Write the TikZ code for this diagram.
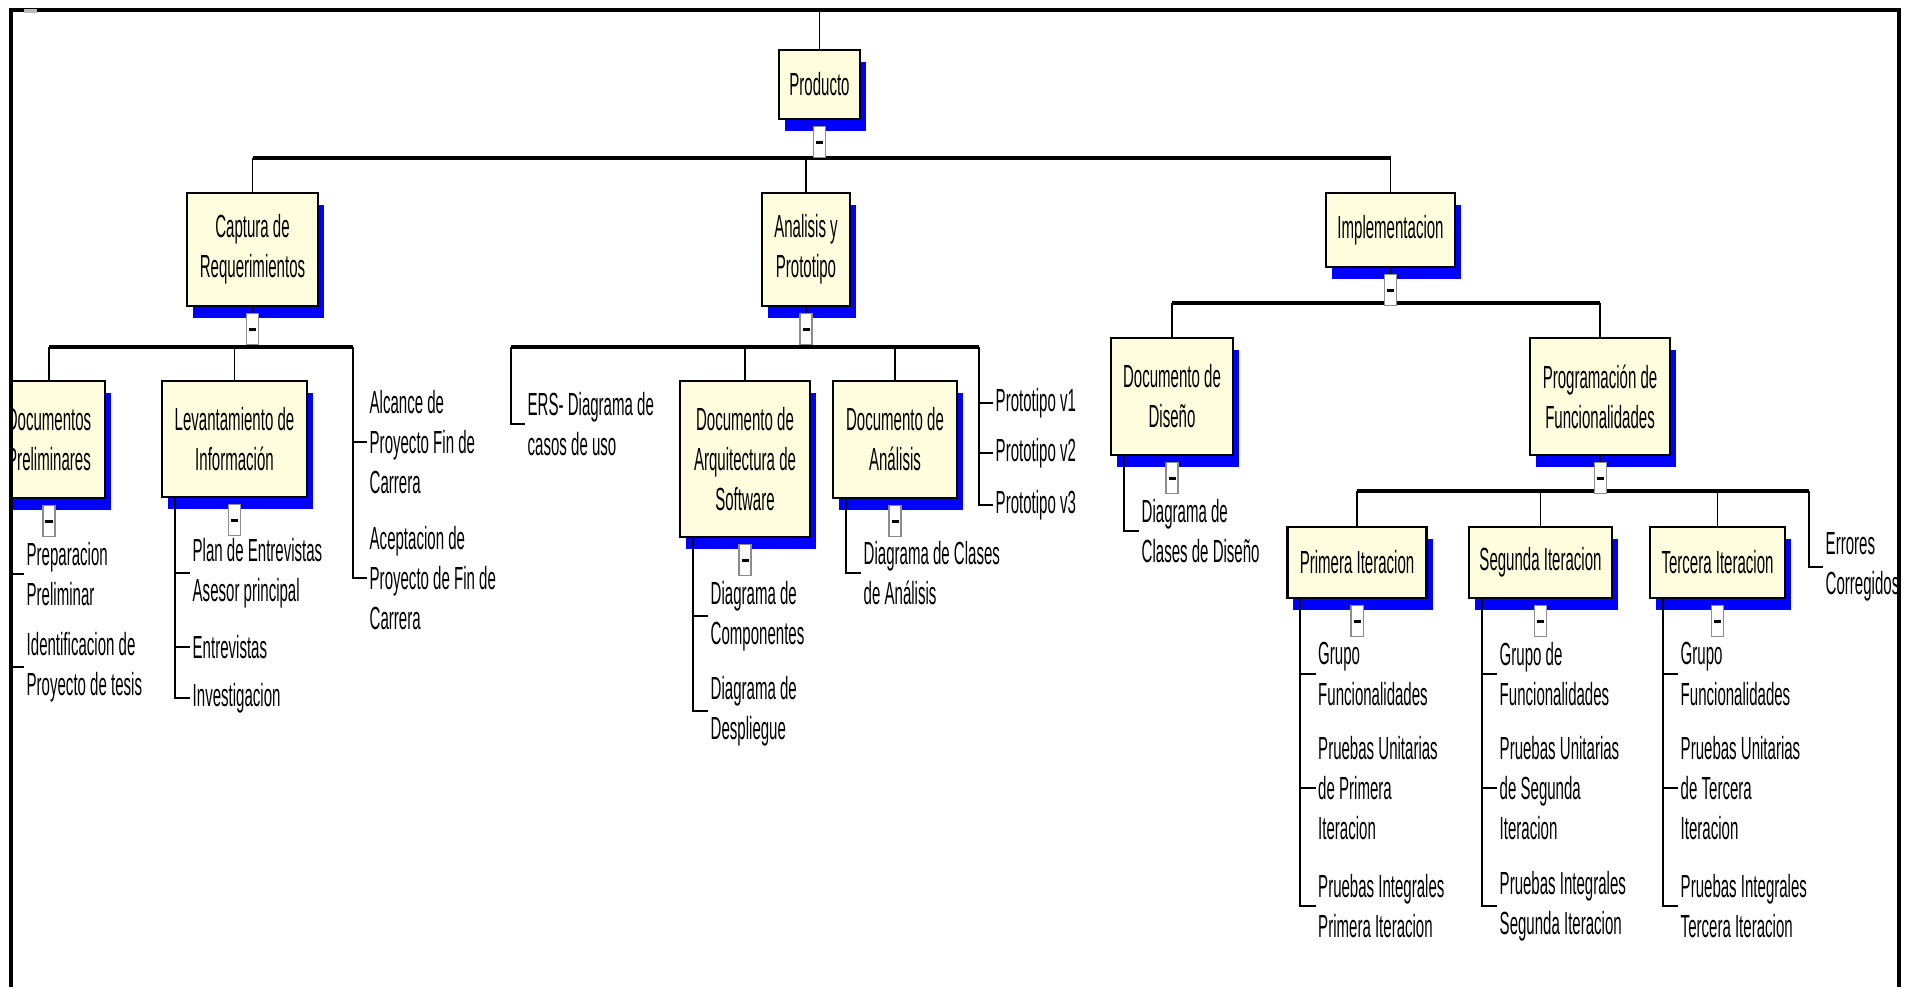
\documentclass[tikz,border=0pt]{standalone}
\usepackage{fontspec}
\setmainfont{Liberation Sans}[FakeStretch=0.47]
\usetikzlibrary{positioning,shadows}

\definecolor{boxfill}{RGB}{255,253,222}
\definecolor{shadowblue}{RGB}{0,0,255}
\newcommand{\collapse}{\rule{0.07cm}{0.03cm}}

\tikzset{
  wbs/.style={draw, fill=boxfill, line width=0.7pt, align=center, inner sep=0pt,
    drop shadow={shadow xshift=0.06cm, shadow yshift=-0.12cm, fill=shadowblue, opacity=1}},
  leaf/.style={anchor=west, align=left, inner sep=0.02cm},
  btn/.style={draw=black!45, fill=white, line width=0.3pt, inner sep=0pt,
    minimum width=0.12cm, minimum height=0.31cm},
  link/.style={line width=0.45pt},
  bus/.style={line width=0.9pt},
  frame/.style={line width=1pt}
}

\begin{document}
\begin{tikzpicture}[x=0.01cm, y=-0.01cm, font=\fontsize{9.1}{11.4}\selectfont]
  \useasboundingbox (0,0) rectangle (1907,987);
  \begin{scope}
  \clip (12,12) rectangle (1898,987);
  % top of the tree
  \node[wbs, minimum width=0.81cm, minimum height=0.69cm] (prod) at (819.5,84.5) {Producto};
  % phases
  \node[wbs, minimum width=1.31cm, minimum height=1.13cm] (cap) at (252.5,249.5) {Captura de\\Requerimientos};
  \node[wbs, minimum width=0.88cm, minimum height=1.13cm] (ana) at (806,249.5) {Analisis y\\Prototipo};
  \node[wbs, minimum width=1.29cm, minimum height=0.74cm] (impl) at (1390.5,230) {Implementacion};
  % deliverables
  \node[wbs, minimum width=1.12cm, minimum height=1.17cm] (docp) at (49,439.5) {Documentos\\Preliminares};
  \node[wbs, minimum width=1.45cm, minimum height=1.16cm] (lev) at (234.5,439) {Levantamiento de\\Información};
  \node[wbs, minimum width=1.30cm, minimum height=1.56cm] (arq) at (745,459) {Documento de\\Arquitectura de\\Software};
  \node[wbs, minimum width=1.24cm, minimum height=1.17cm] (anl) at (895,439.5) {Documento de\\Análisis};
  \node[wbs, minimum width=1.22cm, minimum height=1.17cm] (dis) at (1172,396.5) {Documento de\\Diseño};
  \node[wbs, minimum width=1.40cm, minimum height=1.17cm] (prog) at (1600,396.5) {Programación de\\Funcionalidades};
  % iterations
  \node[wbs, minimum width=1.39cm, minimum height=0.71cm] (it1) at (1357,562.5) {Primera Iteracion};
  \node[wbs, minimum width=1.43cm, minimum height=0.71cm] (it2) at (1540.5,562.5) {Segunda Iteracion};
  \node[wbs, minimum width=1.35cm, minimum height=0.71cm] (it3) at (1717.5,562.5) {Tercera Iteracion};

  % leaves
  \node[leaf] (pp1) at (24,574) {Preparacion\\Preliminar};
  \node[leaf] (pp2) at (24,667) {Identificacion de\\Proyecto de tesis};
  \node[leaf] (lv1) at (190,573) {Plan de Entrevistas\\Asesor principal};
  \node[leaf] (lv2) at (190,647) {Entrevistas};
  \node[leaf] (lv3) at (190,698) {Investigacion};
  \node[leaf] (alc) at (367,442) {Alcance de\\Proyecto Fin de\\Carrera};
  \node[leaf] (acep) at (367,578) {Aceptacion de\\Proyecto de Fin de\\Carrera};
  \node[leaf] (ers) at (525,424) {ERS- Diagrama de\\casos de uso};
  \node[leaf] (aq1) at (708,616) {Diagrama de\\Componentes};
  \node[leaf] (aq2) at (708,711) {Diagrama de\\Despliegue};
  \node[leaf] (an1) at (861,573) {Diagrama de Clases\\de Análisis};
  \node[leaf] (pv1) at (993,403) {Prototipo v1};
  \node[leaf] (pv2) at (993,453) {Prototipo v2};
  \node[leaf] (pv3) at (993,505) {Prototipo v3};
  \node[leaf] (ds1) at (1139,531) {Diagrama de\\Clases de Diseño};
  \node[leaf] (err) at (1823,567) {Errores\\Corregidos};
  \node[leaf] (g1) at (1315.5,674) {Grupo\\Funcionalidades};
  \node[leaf] (u1) at (1315.5,788) {Pruebas Unitarias\\de Primera\\Iteracion};
  \node[leaf] (i1) at (1315.5,906) {Pruebas Integrales\\Primera Iteracion};
  \node[leaf] (g2) at (1497,674) {Grupo de\\Funcionalidades};
  \node[leaf] (u2) at (1497,788) {Pruebas Unitarias\\de Segunda\\Iteracion};
  \node[leaf] (i2) at (1497,906) {Pruebas Integrales\\Segunda Iteracion};
  \node[leaf] (g3) at (1678,674) {Grupo\\Funcionalidades};
  \node[leaf] (u3) at (1678,788) {Pruebas Unitarias\\de Tercera\\Iteracion};
  \node[leaf] (i3) at (1678,906) {Pruebas Integrales\\Tercera Iteracion};

  % Producto to the frame and to its bus
  \coordinate (ftop) at (819.5,10);
  \coordinate (bus0) at (819.5,158);
  \draw[link] (prod.north) -- (ftop);
  \draw[link] (prod.south) -- (bus0);
  \draw[bus] (bus0 -| cap.north) -- (bus0 -| impl.north);
  \draw[link] (bus0 -| cap.north) -- (cap.north);
  \draw[link] (bus0 -| ana.north) -- (ana.north);
  \draw[link] (bus0 -| impl.north) -- (impl.north);

  % Captura de Requerimientos
  \coordinate (bus1) at (353,347);
  \draw[link] (cap.south) -- (cap.south |- bus1);
  \draw[bus] (bus1 -| docp.north) -- (bus1);
  \draw[link] (bus1 -| docp.north) -- (docp.north);
  \draw[link] (bus1 -| lev.north) -- (lev.north);
  \draw[link] (bus1) |- (alc.west);
  \draw[link] (bus1) |- (acep.west);
  \draw[link] ([xshift=0.17cm]docp.south west) |- (pp1.west);
  \draw[link] ([xshift=0.17cm]docp.south west) |- (pp2.west);
  \draw[link] ([xshift=0.14cm]lev.south west) |- (lv1.west);
  \draw[link] ([xshift=0.14cm]lev.south west) |- (lv2.west);
  \draw[link] ([xshift=0.14cm]lev.south west) |- (lv3.west);

  % Analisis y Prototipo
  \coordinate (bus2a) at (511,347);
  \coordinate (bus2b) at (979,347);
  \draw[link] (ana.south) -- (ana.south |- bus2a);
  \draw[bus] (bus2a) -- (bus2b);
  \draw[link] (bus2a) |- (ers.west);
  \draw[link] (bus2a -| arq.north) -- (arq.north);
  \draw[link] (bus2a -| anl.north) -- (anl.north);
  \draw[link] (bus2b) |- (pv1.west);
  \draw[link] (bus2b) |- (pv2.west);
  \draw[link] (bus2b) |- (pv3.west);
  \draw[link] ([xshift=0.14cm]arq.south west) |- (aq1.west);
  \draw[link] ([xshift=0.14cm]arq.south west) |- (aq2.west);
  \draw[link] ([xshift=0.14cm]anl.south west) |- (an1.west);

  % Implementacion
  \coordinate (bus3) at (1390.5,303);
  \draw[link] (impl.south) -- (bus3);
  \draw[bus] (bus3 -| dis.north) -- (bus3 -| prog.north);
  \draw[link] (bus3 -| dis.north) -- (dis.north);
  \draw[link] (bus3 -| prog.north) -- (prog.north);
  \draw[link] ([xshift=0.14cm]dis.south west) |- (ds1.west);

  % Programacion de Funcionalidades
  \coordinate (bus4) at (1809,491);
  \draw[link] (prog.south) -- (prog.south |- bus4);
  \draw[bus] (bus4 -| it1.north) -- (bus4);
  \draw[link] (bus4 -| it1.north) -- (it1.north);
  \draw[link] (bus4 -| it2.north) -- (it2.north);
  \draw[link] (bus4 -| it3.north) -- (it3.north);
  \draw[link] (bus4) |- (err.west);
  \draw[link] ([xshift=0.14cm]it1.south west) |- (g1.west);
  \draw[link] ([xshift=0.14cm]it1.south west) |- (u1.west);
  \draw[link] ([xshift=0.14cm]it1.south west) |- (i1.west);
  \draw[link] ([xshift=0.14cm]it2.south west) |- (g2.west);
  \draw[link] ([xshift=0.14cm]it2.south west) |- (u2.west);
  \draw[link] ([xshift=0.14cm]it2.south west) |- (i2.west);
  \draw[link] ([xshift=0.14cm]it3.south west) |- (g3.west);
  \draw[link] ([xshift=0.14cm]it3.south west) |- (u3.west);
  \draw[link] ([xshift=0.14cm]it3.south west) |- (i3.west);

  % collapse buttons under each box
  \node[btn, below=0.06cm of prod] (bprod) {\collapse};
  \node[btn, below=0.06cm of cap] (bcap) {\collapse};
  \node[btn, below=0.06cm of ana] (bana) {\collapse};
  \node[btn, below=0.06cm of impl] (bimpl) {\collapse};
  \node[btn, below=0.06cm of docp] (bdocp) {\collapse};
  \node[btn, below=0.06cm of lev] (blev) {\collapse};
  \node[btn, below=0.06cm of arq] (barq) {\collapse};
  \node[btn, below=0.06cm of anl] (banl) {\collapse};
  \node[btn, below=0.06cm of dis] (bdis) {\collapse};
  \node[btn, below=0.06cm of prog] (bprog) {\collapse};
  \node[btn, below=0.06cm of it1] (bit1) {\collapse};
  \node[btn, below=0.06cm of it2] (bit2) {\collapse};
  \node[btn, below=0.06cm of it3] (bit3) {\collapse};
  \end{scope}

  % window frame
  \draw[frame] (11,987) -- (11,10) -- (1899,10) -- (1899,987);
  \fill[gray!55] (24,9) rectangle (37,13);
\end{tikzpicture}
\end{document}
